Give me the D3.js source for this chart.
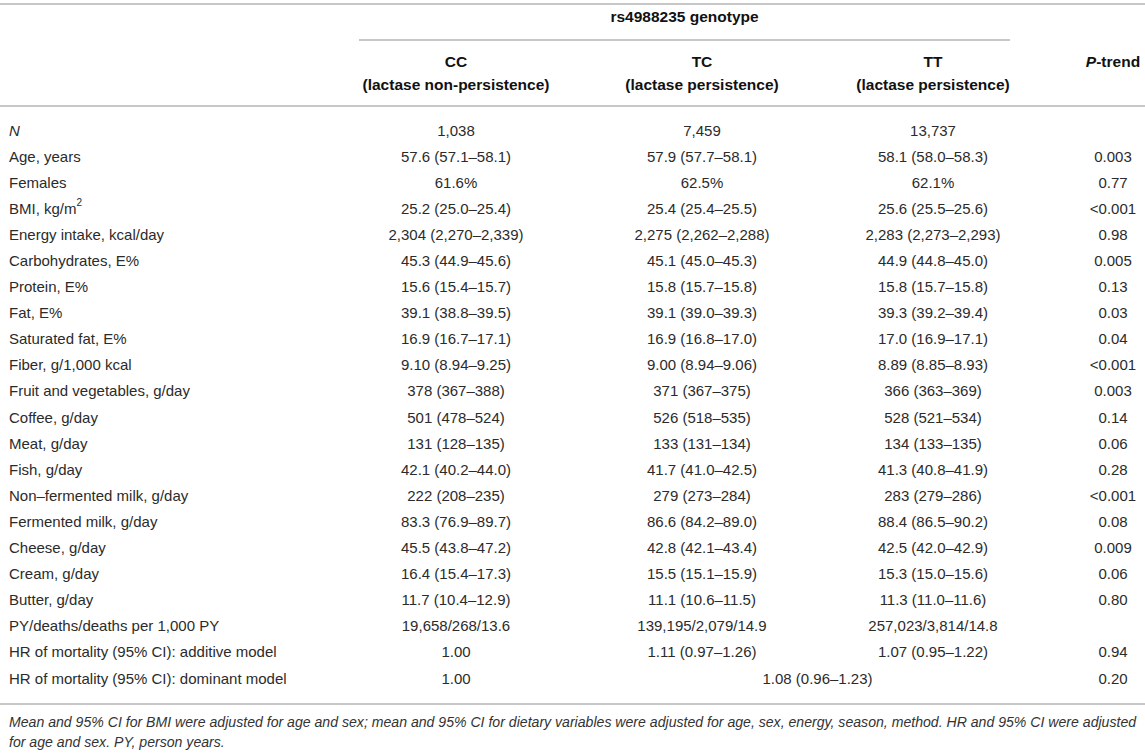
<!DOCTYPE html>
<html lang="en">
<head>
<meta charset="utf-8">
<title>rs4988235 genotype table</title>
<script src="https://d3js.org/d3.v7.min.js"></script>
<style>
  body { margin: 0; background: #fff; }
  svg text { font-family: "Liberation Sans", Arial, Helvetica, sans-serif; font-size: 15px; fill: #2b2b2b; }
  .head text { font-weight: bold; font-size: 15.5px; fill: #111; }
  .foot text { font-size: 14.1px; font-style: italic; fill: #333; }
  .rule { stroke: #b4b4b4; stroke-width: 1.5; }
</style>
</head>
<body>
<svg id="tbl" width="1145" height="753"></svg>
<script>
// ---- data ----
var rowLabels = ['N', 'Age, years', 'Females', 'BMI, kg/m2', 'Energy intake, kcal/day',
  'Carbohydrates, E%', 'Protein, E%', 'Fat, E%', 'Saturated fat, E%', 'Fiber, g/1,000 kcal',
  'Fruit and vegetables, g/day', 'Coffee, g/day', 'Meat, g/day', 'Fish, g/day',
  'Non–fermented milk, g/day', 'Fermented milk, g/day', 'Cheese, g/day', 'Cream, g/day',
  'Butter, g/day', 'PY/deaths/deaths per 1,000 PY', 'HR of mortality (95% CI): additive model',
  'HR of mortality (95% CI): dominant model'];

var ccValues = ['1,038', '57.6 (57.1–58.1)', '61.6%', '25.2 (25.0–25.4)', '2,304 (2,270–2,339)',
  '45.3 (44.9–45.6)', '15.6 (15.4–15.7)', '39.1 (38.8–39.5)', '16.9 (16.7–17.1)', '9.10 (8.94–9.25)',
  '378 (367–388)', '501 (478–524)', '131 (128–135)', '42.1 (40.2–44.0)', '222 (208–235)',
  '83.3 (76.9–89.7)', '45.5 (43.8–47.2)', '16.4 (15.4–17.3)', '11.7 (10.4–12.9)',
  '19,658/268/13.6', '1.00', '1.00'];

var tcValues = ['7,459', '57.9 (57.7–58.1)', '62.5%', '25.4 (25.4–25.5)', '2,275 (2,262–2,288)',
  '45.1 (45.0–45.3)', '15.8 (15.7–15.8)', '39.1 (39.0–39.3)', '16.9 (16.8–17.0)', '9.00 (8.94–9.06)',
  '371 (367–375)', '526 (518–535)', '133 (131–134)', '41.7 (41.0–42.5)', '279 (273–284)',
  '86.6 (84.2–89.0)', '42.8 (42.1–43.4)', '15.5 (15.1–15.9)', '11.1 (10.6–11.5)',
  '139,195/2,079/14.9', '1.11 (0.97–1.26)', '1.08 (0.96–1.23)'];

var ttValues = ['13,737', '58.1 (58.0–58.3)', '62.1%', '25.6 (25.5–25.6)', '2,283 (2,273–2,293)',
  '44.9 (44.8–45.0)', '15.8 (15.7–15.8)', '39.3 (39.2–39.4)', '17.0 (16.9–17.1)', '8.89 (8.85–8.93)',
  '366 (363–369)', '528 (521–534)', '134 (133–135)', '41.3 (40.8–41.9)', '283 (279–286)',
  '88.4 (86.5–90.2)', '42.5 (42.0–42.9)', '15.3 (15.0–15.6)', '11.3 (11.0–11.6)',
  '257,023/3,814/14.8', '1.07 (0.95–1.22)', null];

var pTrend = ['', '0.003', '0.77', '<0.001', '0.98', '0.005', '0.13', '0.03', '0.04', '<0.001',
  '0.003', '0.14', '0.06', '0.28', '<0.001', '0.08', '0.009', '0.06', '0.80', '', '0.94', '0.20'];

var groupKeys = ['CC', 'TC', 'TT'];
var groupNotes = ['(lactase non-persistence)', '(lactase persistence)', '(lactase persistence)'];
var spanTitle = 'rs4988235 genotype';
var footnote = ['Mean and 95% CI for BMI were adjusted for age and sex; mean and 95% CI for dietary variables were adjusted for age, sex, energy, season, method. HR and 95% CI were adjusted',
  'for age and sex. PY, person years.'];

// ---- layout ----
var W = 1145;
var svg = d3.select('#tbl');

var colX = d3.scaleOrdinal()
  .domain(['label', 'CC', 'TC', 'TT', 'P'])
  .range([9, 456, 702, 933, 1113]);

var rowY = d3.scalePoint()
  .domain(d3.range(rowLabels.length))
  .range([130, 678]);

// horizontal rules
var rules = [[0, W, 4], [359, 1010, 40], [0, W, 106], [0, W, 704]];
svg.selectAll('line.rule')
  .data(rules)
  .enter()
  .append('line')
  .attr('class', 'rule')
  .attr('x1', function(d) { return d[0]; })
  .attr('x2', function(d) { return d[1]; })
  .attr('y1', function(d) { return d[2]; })
  .attr('y2', function(d) { return d[2]; });

// header
var head = svg.append('g').attr('class', 'head');
head.append('text')
  .attr('x', (359 + 1010) / 2)
  .attr('y', 16)
  .attr('text-anchor', 'middle')
  .attr('dominant-baseline', 'central')
  .text(spanTitle);

head.selectAll('text.grp')
  .data(groupKeys)
  .enter()
  .append('text')
  .attr('class', 'grp')
  .attr('x', function(d) { return colX(d); })
  .attr('y', 61)
  .attr('text-anchor', 'middle')
  .attr('dominant-baseline', 'central')
  .text(function(d) { return d; });

head.selectAll('text.note')
  .data(groupNotes)
  .enter()
  .append('text')
  .attr('class', 'note')
  .attr('x', function(d, i) { return colX(groupKeys[i]); })
  .attr('y', 84)
  .attr('text-anchor', 'middle')
  .attr('dominant-baseline', 'central')
  .text(function(d) { return d; });

var pHead = head.append('text')
  .attr('x', colX('P'))
  .attr('y', 61)
  .attr('text-anchor', 'middle')
  .attr('dominant-baseline', 'central');
pHead.append('tspan').style('font-style', 'italic').text('P');
pHead.append('tspan').text('-trend');

// body rows
var body = svg.append('g').attr('class', 'body');

var labels = body.selectAll('text.lbl')
  .data(rowLabels)
  .enter()
  .append('text')
  .attr('class', 'lbl')
  .attr('x', colX('label'))
  .attr('y', function(d, i) { return rowY(i); })
  .attr('dominant-baseline', 'central');

labels.each(function(d) {
  var t = d3.select(this);
  if (d === 'N') {
    t.append('tspan').style('font-style', 'italic').text('N');
  } else if (d === 'BMI, kg/m2') {
    t.append('tspan').text('BMI, kg/m');
    t.append('tspan').attr('dy', -6).style('font-size', '10px').text('2');
  } else {
    t.text(d);
  }
});

var cols = [['CC', ccValues], ['TC', tcValues], ['TT', ttValues], ['P', pTrend]];
cols.forEach(function(c, ci) {
  body.selectAll('text.c' + ci)
    .data(c[1])
    .enter()
    .append('text')
    .attr('class', 'c' + ci)
    .attr('x', function(d, i) {
      // value spanning TC and TT when TT cell is empty
      if (c[0] === 'TC' && ttValues[i] === null) return (colX('TC') + colX('TT')) / 2;
      return colX(c[0]);
    })
    .attr('y', function(d, i) { return rowY(i); })
    .attr('text-anchor', 'middle')
    .attr('dominant-baseline', 'central')
    .text(function(d) { return d === null ? '' : d; });
});

// footnote
svg.append('g').attr('class', 'foot')
  .selectAll('text')
  .data(footnote)
  .enter()
  .append('text')
  .attr('x', 9)
  .attr('y', function(d, i) { return 722 + i * 20; })
  .attr('dominant-baseline', 'central')
  .text(function(d) { return d; });
</script>
</body>
</html>
